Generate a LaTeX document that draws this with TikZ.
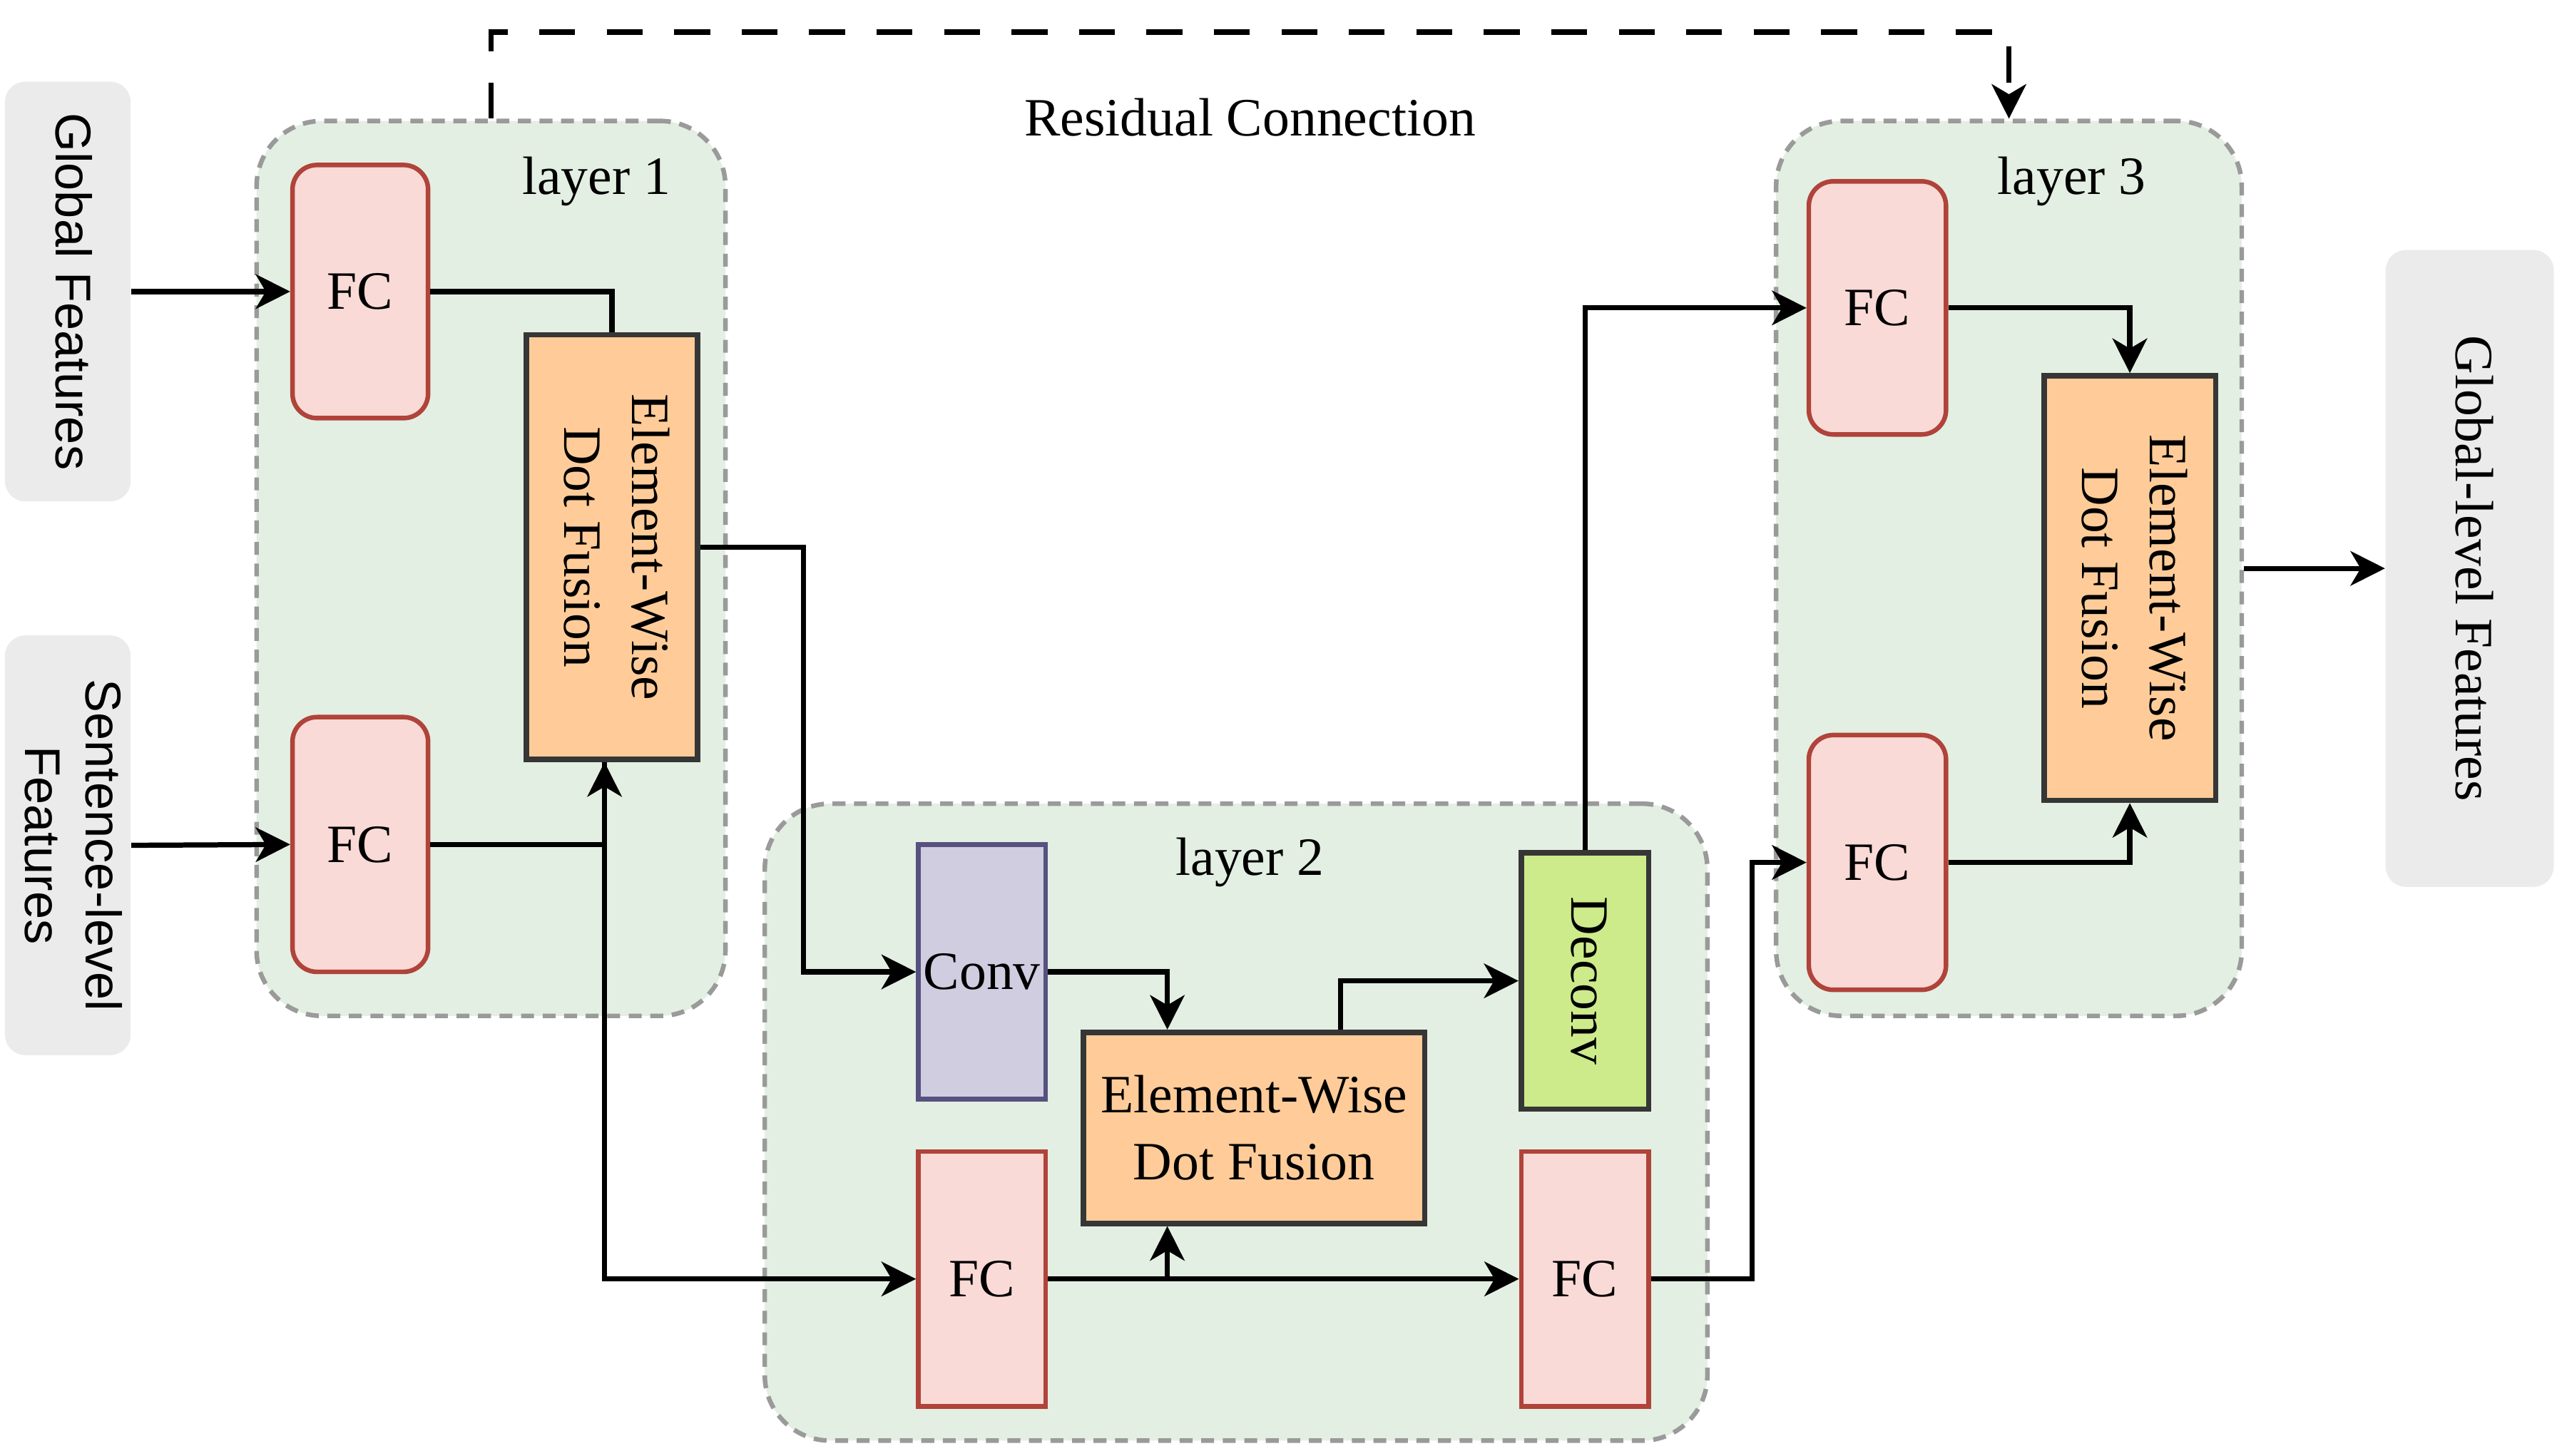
\documentclass[tikz,border=0pt]{standalone}
\usepackage{fontspec}
\setmainfont{Liberation Serif}
\setsansfont{Liberation Sans}
\usepackage{tikz}
\usetikzlibrary{arrows.meta,positioning,calc}

\definecolor{fcfill}{HTML}{F9DAD6}
\definecolor{fcline}{HTML}{B0433A}
\definecolor{layerfill}{HTML}{E3EFE3}
\definecolor{layerline}{HTML}{9A9A9A}
\definecolor{fusefill}{HTML}{FFCC99}
\definecolor{fuseline}{HTML}{363636}
\definecolor{convfill}{HTML}{D0CDE1}
\definecolor{convline}{HTML}{56517E}
\definecolor{deconvfill}{HTML}{CDEB8B}
\definecolor{featfill}{HTML}{EBEBEB}

\newcommand{\sidetext}[1]{\rotatebox{-90}{\begin{tabular}{@{}c@{}}#1\end{tabular}}}

\tikzset{
  layerbox/.style={draw=layerline, fill=layerfill, line width=1.6pt, dash pattern=on 4.5pt off 3pt, rounded corners=0.8cm},
  featbox/.style={fill=featfill, rounded corners=0.25cm, inner sep=0pt},
  fcround/.style={draw=fcline, fill=fcfill, line width=1.6pt, rounded corners=0.3cm, inner sep=0pt},
  fcbox/.style={draw=fcline, fill=fcfill, line width=1.6pt, inner sep=0pt},
  fusebox/.style={draw=fuseline, fill=fusefill, line width=1.9pt, inner sep=0pt},
  convbox/.style={draw=convline, fill=convfill, line width=1.6pt, inner sep=0pt},
  deconvbox/.style={draw=fuseline, fill=deconvfill, line width=1.9pt, inner sep=0pt},
  arr/.style={line width=1.8pt, -{Stealth[length=12pt, width=12pt, inset=3.5pt]}},
  conn/.style={line width=1.8pt}
}

\begin{document}
\begin{tikzpicture}[x=0.02cm, y=-0.02cm, font=\fontsize{18.8}{23.5}\selectfont]
\useasboundingbox (0,0) rectangle (1568,891);

% layers
\node[layerbox, minimum width=5.74cm, minimum height=10.96cm] (l1) at (300.5,348) {};
\node[layerbox, minimum width=11.54cm, minimum height=7.8cm] (l2) at (756.5,687) {};
\node[layerbox, minimum width=5.70cm, minimum height=10.96cm] (l3) at (1229.5,348) {};
\node (l1lab) at (365,111) {layer 1};
\node (l2lab) at (765,528) {layer 2};
\node (l3lab) at (1268,111) {layer 3};
\node (reslab) at (765,72) {Residual Connection};

% inputs and output
\node[featbox, minimum width=1.54cm, minimum height=5.14cm, font=\sffamily\fontsize{17.5}{21}\selectfont] (gf) at (41.5,178.5) {\sidetext{Global Features}};
\node[featbox, minimum width=1.54cm, minimum height=5.14cm, font=\sffamily\fontsize{17.5}{21}\selectfont] (sf) at (41.5,517.5) {\sidetext{Sentence-level\\Features}};
\node[featbox, minimum width=2.06cm, minimum height=7.8cm] (gl) at (1511.5,348) {\sidetext{Global-level Features}};

% layer 1
\node[fcround, minimum width=1.66cm, minimum height=3.1cm] (fc1a) at (220.5,178.5) {FC};
\node[fcround, minimum width=1.66cm, minimum height=3.12cm] (fc1b) at (220.5,517) {FC};
\node[fusebox, minimum width=2.1cm, minimum height=5.2cm] (ew1) at (374.5,335) {\sidetext{Element-Wise\\Dot Fusion}};

% layer 2
\node[convbox, minimum width=1.56cm, minimum height=3.12cm] (conv) at (601,595) {Conv};
\node[fusebox, minimum width=4.18cm, minimum height=2.34cm, align=center] (ew2) at (767.5,690.5) {Element-Wise\\Dot Fusion};
\node[deconvbox, minimum width=1.56cm, minimum height=3.14cm] (deconv) at (970,600.5) {\sidetext{Deconv}};
\node[fcbox, minimum width=1.56cm, minimum height=3.12cm] (fc2a) at (601,783) {FC};
\node[fcbox, minimum width=1.56cm, minimum height=3.12cm] (fc2b) at (970,783) {FC};

% layer 3
\node[fcround, minimum width=1.68cm, minimum height=3.1cm] (fc3a) at (1149,188.5) {FC};
\node[fcround, minimum width=1.68cm, minimum height=3.12cm] (fc3b) at (1149,528) {FC};
\node[fusebox, minimum width=2.1cm, minimum height=5.2cm] (ew3) at (1303.5,360) {\sidetext{Element-Wise\\Dot Fusion}};

% connections
\draw[arr] (gf.east) -- (fc1a.west);
\draw[conn] (fc1a.east) -| (ew1.north);
\draw[arr] (sf.east) -- (fc1b.west);
\draw[arr] (fc1b.east) -| ([xshift=-0.09cm]ew1.south);
\draw[arr] ([xshift=-0.09cm]ew1.south) |- (fc2a.west);
\draw[arr] (ew1.east) -- ++(63,0) |- (conv.west);
\draw[arr] (conv.east) -| ($(ew2.north west)!0.25!(ew2.north east)$);
\draw[arr] (fc2a.east) -- (fc2b.west);
\coordinate (j2) at ($(ew2.south west)!0.25!(ew2.south east)$);
\draw[arr] (j2 |- fc2a.east) -- (j2);
\draw[arr] ($(ew2.north west)!0.75!(ew2.north east)$) |- (deconv.west);
\draw[arr] (deconv.north) |- (fc3a.west);
\draw[arr] (fc2b.east) -- ++(62,0) |- (fc3b.west);
\draw[arr] (fc3a.east) -| (ew3.north);
\draw[arr] (fc3b.east) -| (ew3.south);
\draw[arr] (l3.east) -- (gl.west);
\draw[arr, dash pattern=on 12.5pt off 11pt] (l1.north) -- ++(0,-53) -| (l3.north);
\end{tikzpicture}
\end{document}
